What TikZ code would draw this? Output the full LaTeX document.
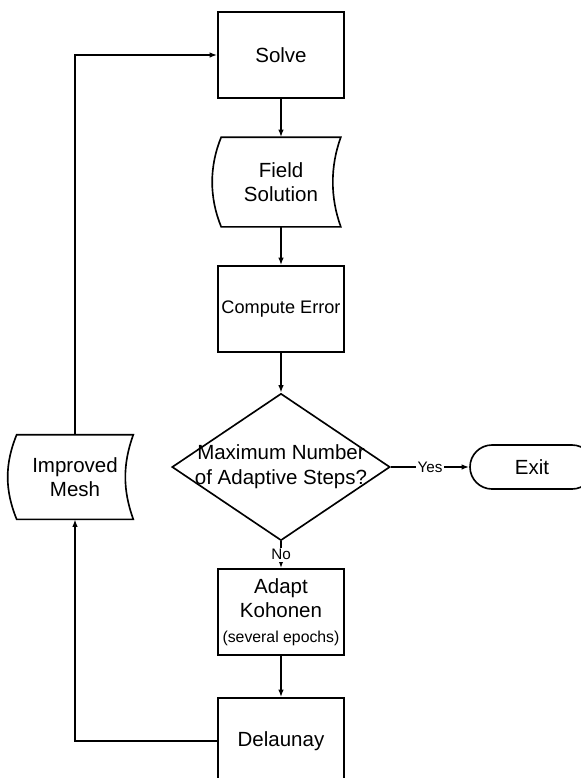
\documentclass[tikz,border=0pt]{standalone}
\usepackage{fontspec}
\setsansfont{Liberation Sans}
\usepackage{tikz}
\usetikzlibrary{arrows.meta, shapes.geometric}
\tikzset{%
  >={Latex[width=1.7mm,length=2.3mm]},
  % Specifications for style of nodes:
          base/.style = {rectangle, draw=black, line width=1.4pt,
                         minimum width=3.78cm, minimum height=2.58cm,
                         inner sep=0pt, align=center,
                         font=\sffamily\fontsize{17.5}{21}\selectfont},
       process/.style = {base},
     datastore/.style = {base, draw=none, minimum width=3.54cm, minimum height=2.64cm,
                         append after command={\pgfextra{
                           \draw[-, line width=1.4pt] (\tikzlastnode.north west)
                             .. controls +(-0.36,-0.88) and +(-0.36,0.88) .. (\tikzlastnode.south west)
                             -- (\tikzlastnode.south east)
                             .. controls +(-0.32,0.88) and +(-0.32,-0.88) .. (\tikzlastnode.north east)
                             -- cycle;}}},
      decision/.style = {base, diamond, minimum width=6.54cm, minimum height=4.41cm},
      terminal/.style = {base, rounded corners=0.66cm, minimum width=3.72cm, minimum height=1.32cm},
        answer/.style = {fill=white, inner sep=1.5pt, font=\sffamily\fontsize{13}{15}\selectfont},
}

\begin{document}
\begin{tikzpicture}[
  ->,
    node distance=3.81cm,
    line width=1.4pt]

  \useasboundingbox (0,0) rectangle (17.43,-23.34);

  \node(solve)     [process] at (8.43,-1.65)                     {Solve};
  \node(field)     [datastore, below of=solve]                   {Field\\Solution};
  \node(error)     [process, below of=field,
                    font=\sffamily\fontsize{15.5}{18}\selectfont]  {Compute Error};
  \node(maxsteps)  [decision, below of=error, yshift=-0.93cm]    {\makebox[0pt]{\begin{tabular}{@{}c@{}}Maximum Number\\of Adaptive Steps?\end{tabular}}};
  \node(adapt)     [process, below of=maxsteps, yshift=-0.54cm]  {Adapt\\Kohonen\\{\fontsize{13.5}{16}\selectfont (several epochs)}};
  \node(delaunay)  [process, below of=adapt, yshift=-0.06cm]     {Delaunay};
  \node(exit)      [terminal, right of=maxsteps, xshift=3.72cm]  {Exit};
  \node(mesh)      [datastore, left of=maxsteps, xshift=-2.37cm, yshift=-0.3cm,
                    minimum width=3.45cm, minimum height=2.49cm]   {Improved\\Mesh};

  % Specification of lines between nodes specified above
  \draw[->]             (solve) -- (field);
  \draw[->]             (field) -- (error);
  \draw[->]             (error) -- (maxsteps);
  \draw[->]             (maxsteps) -- node[answer] {Yes} (exit);
  \draw[->]             (maxsteps) -- node[answer] {No} (adapt);
  \draw[->]             (adapt) -- (delaunay);
  \draw[->]             (delaunay) -| (mesh);
  \draw[->]             (mesh) |- (solve);

\end{tikzpicture}
\end{document}
